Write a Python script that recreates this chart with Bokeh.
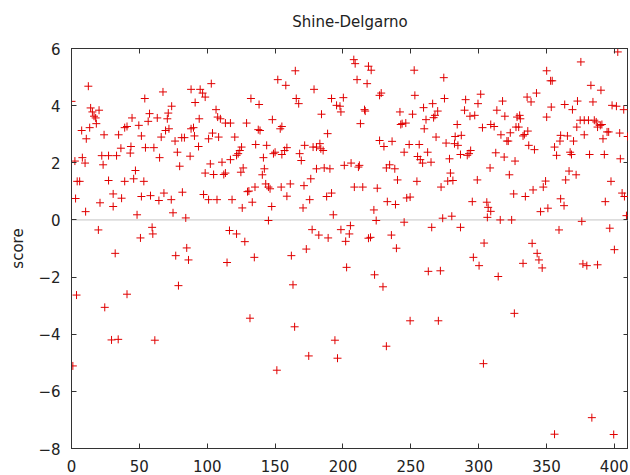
from bokeh.plotting import figure
from bokeh.models import Range1d, FixedTicker, LinearAxis, Span
from bokeh.embed import file_html
from bokeh.resources import INLINE

position = [
    0, 1, 2.5, 3, 3.7, 4.2, 6, 7.5, 8, 10, 10.4, 10.9, 12.4, 13.4, 14.1, 15.4, 16.6, 17.8, 18.3, 20.3,
    19.8, 21, 22.3, 23.3, 24, 24.5, 27.3, 27.3, 29.5, 30.7, 30.7, 32.2, 33.2, 34.4, 34.7, 36.4, 36.9,
    39.2, 40.9, 44.6, 49.6, 54, 56.5, 57.5, 63.2, 67.4, 70.6, 71.3, 71.8, 69.3, 73.8, 51.5, 66.1, 76.3,
    78, 43.8, 43.3, 54.5, 60.7, 64.9, 47.1, 45.8, 39.2, 53.3, 51.5, 58.2, 68.1, 64.4, 73.5, 48.3, 74.8,
    59.4, 59.9, 50.8, 76.8, 78.8, 40.9, 61.4,
    79.7, 81.2, 81.7, 83.2, 84.2, 84.9, 86.2, 87.4, 88.1, 88.1, 89.9, 90.6, 91.1, 93.6, 94.1, 94.8,
    96.6, 98.5, 97.3, 98.5, 101, 101, 102.3, 103, 103.9, 104.7, 106.5, 107.2, 107.7, 108.4, 109.7,
    110.9, 112.2, 113.4, 113.4, 114.6, 116.4, 117.1, 117.1, 118.3, 120.3,
    121.6, 121.6, 122.8, 124, 124.8, 125.3, 125.8, 126.5, 127.7, 129, 129.7, 130.7, 131.5, 132.2,
    133.2, 134.7, 135.2, 135.7, 137.6, 138.9, 138.2, 140.6, 141.4, 142.1, 143.1, 143.8, 145.1, 145.1,
    146.3, 147.5, 148, 148.8, 150, 151.3, 152, 153.8, 155, 155, 154.5, 157, 157.9, 158.7, 158.7,
    161.2, 162,
    163.2, 164.4, 164.9, 165.6, 167.4, 168.1, 169.3, 170.6, 171.3, 171.8, 173, 174.8, 175.5, 176.3,
    177.3, 178, 178.7, 180.5, 180.5, 182.2, 183, 183.7, 184.2, 185.4, 186.2, 188, 188.7, 189.1, 190.4,
    191.6, 191.6, 192.9, 194.1, 195.3, 196, 197.8, 198.5, 198.5, 200.3, 201, 202, 202.7,
    204.7, 205.5, 206, 208, 209, 208.4, 210.4, 211.4, 212.1, 212.9, 214.6, 215.9, 216.4, 217.8, 218.8,
    218.8, 220.3, 220.8, 222.8, 223.3, 224.5, 225.3, 227, 227, 228.2, 229.5, 230.2, 232, 232, 232.7,
    234.4, 235.7, 236.2, 238.2, 238.7, 239.4, 240.2, 242, 242.6, 243.6, 245.1, 245.1,
    246.3, 247, 248.8, 249.5, 249.5, 251.3, 252.5, 253, 254.5, 255, 256.2, 257, 258.7, 259.4, 259.9,
    261.2, 262.4, 262.9, 264.9, 265.4, 266.1, 266.8, 267.8, 268.6, 269.8, 270.3, 271.8, 272.3, 273.5,
    274.3, 274.8, 276, 277.2, 278.5, 279.2, 280.2, 281, 282.2, 282.7, 284.2, 284.7, 286.6, 286.6,
    287.2, 289.6, 290.4, 291.6, 292.9, 293.6, 294.1, 295.3, 296.1, 297.1, 299, 299.5, 300.3, 301.5,
    302.8, 303.5, 304, 306, 306.4, 307, 308.4, 308.9, 308.9, 311.4, 312.6, 313.4, 314.4, 315.9, 316.4,
    317.6, 318.8, 319.3, 320.8, 321.8, 322.6, 323.3, 324.3, 325.8, 326.3, 326.8, 327.5, 328.3,
    329.5, 330.2, 330.7, 332.7, 332.7, 333.7, 334.4, 335.7, 336.2, 336.9, 338.6, 339.4, 340.1, 341.1,
    342.6, 343.1, 344.4, 345.6, 346.8, 347.6, 349.3, 350.1, 350.1, 351, 353, 354.2, 353.5, 355.9,
    355.9, 357.4, 359.2, 359.9, 360.4, 360.4, 362.9, 363.4, 364.1, 365.4, 366.6, 367.4, 368.4, 369.1,
    369.9,
    371.8, 372.3, 372.8, 374.8, 375.3, 376, 376.8, 377.8, 377.8, 379.7, 380.9, 381.7, 382.7, 383.4,
    384.2, 385.2, 386.6, 387.6, 387.6, 389.6, 390.1, 390.8, 391.6, 392.6, 393.3, 394.6, 395.8, 396.6,
    397.5, 398.3, 399.5, 400, 401.5, 402.5, 403.9, 404.4, 405.7, 406.9, 407.4, 408.9, 409.8,
]

score = [
    4.15, -5.11, 2.06, 0.75, -2.63, 1.35, 1.35, 3.13, 2.18, 1.99, 0.29, 2.84, 4.68, 3.23, 3.92, 3.78, 3.63, 3.57, 3.37, 3.84,
    -0.35, 0.60, 2.25, 1.93, 2.98, -3.06, 2.25, 1.38, -4.2, 0.91, 0.47, -1.17, 2.25, -4.18, 2.98, 2.51, 0.76,
    3.23, 3.27, 3.57, 3.31, 4.25, 3.45, 3.72, 3.57, 4.48, 3.54, 3.74, 3.19, 3.13, 3.98, 2.94, 2.90, 2.76,
    2.37, 2.57, 2.34, 2.53, 2.53, 2.18, 1.73, 1.44, 1.35, 1.35, 0.82, 0.85, 0.94, 0.68, 0.71, 0.18, 0.25,
    -0.26, -0.49, -0.63, -1.25, -2.30, -2.60, -4.21,
    1.88, 2.88, 0.97, 2.88, 0.07, -0.98, -1.40, 2.23, 4.57, 3.19, 3.23, 2.94, 4.11, 2.57, 3.54, 4.57,
    4.44, 4.30, 0.89, 1.64, 2.84, 0.71, 1.96, 4.77, 3.04, 1.59, 3.86, 0.71, 3.60, 2.90, 3.54,
    2.02, 1.59, 1.64, 3.39, -1.49, -0.37, 3.39, 2.11, 0.71, 2.90,
    2.26, -0.49, 2.32, 2.43, 1.67, 2.55, 0.42, 1.82, -0.76, 3.39, 0.99, 1.01, -3.44, 4.25,
    0.62, -1.31, 1.15, 2.64, 3.16, 3.13, 4.04, 1.58, 2.18, 1.79, 1.26, 2.61, 1.15, -0.02,
    1.09, 0.47, 3.51, 2.32, 2.37, -5.26, 4.91, 3.19, 3.27, 2.29, 1.15, 2.43, 4.71, 2.53, 0.83,
    1.26, -1.25,
    -2.27, -3.74, 5.22, 4.25, 4.07, 2.32, 2.08, 0.42, 1.20, 2.61, -1.02, -4.76, 0.71, 1.44,
    -0.34, 2.55, 4.57, 2.55, 1.79, -0.53, 2.67, 2.49, 3.70, 2.43, 1.82, 0.82, 3.02, -0.63, 1.79,
    4.25, 0.94, 0.18, -4.21, 4.01, -4.84, 3.98, 3.78, -0.34, 4.28, 1.91, -0.75, -1.66,
    -0.49, -0.20, 1.99, 5.61, 5.47, 1.15, 4.91, 1.85, 1.91, 3.37, 1.15, 3.86, 3.81, 4.77, 5.38,
    -0.64, -0.61, 5.24, 0.35, -1.92, -0.02, 1.11, 4.36, 2.78, 4.44, -2.34, 2.57, 1.82, -4.42, 0.64,
    1.93, -0.53, 2.75, 1.79, 0.54, -0.99, 1.40, 3.78, 3.34, 3.37, 2.37, -0.08,
    3.39, 0.77, 2.64, 0.80, -3.53, 3.70, 5.24, 4.36, 1.35, 2.22, 2.64, 2.11, 1.99, 3.93, 3.19,
    3.51, 2.37, -1.80, 2.02, -0.26, 4.07, 3.58, 3.66, 2.90, 3.81, -3.53, -1.78, 1.15, 0.06,
    4.98, 4.25, 2.69, 1.36, 2.14, 1.64, 0.13, 1.38, 2.67, 2.92, 3.34, 2.61, 2.29, -0.26,
    2.96, 3.84, 4.21, 2.26, 2.32, 3.63, 2.43, 0.64, -1.31, 3.66, 1.40, 4.07, -1.60, 4.40,
    3.23, -5.03, -0.81, 0.62, 0.09, 0.44, 1.82, 3.34, 0.30, 3.27, 2.35, 3.84, -1.98, 0.0, 2.98,
    4.16, 2.20, 3.63, 2.76, 2.76, 1.58, 3.05, 0.0, 0.91, -3.27, 2.06, 3.25, 3.60,
    3.25, 3.66, 3.54, 2.94, -1.52, 2.99, 0.82, 4.30, 3.11, 2.61, 4.13, -0.82, 1.05, 2.46,
    4.44, -1.17, -1.40, 0.29, -1.68, 1.15, 1.36, 5.22, 3.60, 0.41, 4.87, 4.87, 3.95, 2.55,
    -7.5, 2.26, -0.35, 2.76, 2.96, 0.74, 0.50, 4.04, 1.40, 2.94, 1.71, 2.37, 2.29, 3.86,
    2.76,
    1.58, 3.25, 4.16, 3.49, 5.53, -0.05, -1.54, 3.49, 2.98, -1.60, 3.49, 2.29, 4.71, -6.92,
    4.13, 3.49, 3.43, 3.25, -1.57, 3.31, 4.54, 3.34, 2.84, 2.29, 0.64, 3.08, 3.08, -0.29,
    1.35, 4.01, -7.51, -1.04, 3.98, 5.88, 3.04, 2.14, 0.94, 3.86, 0.82, 0.15, 2.92,
]

x_ticks = [0, 50, 100, 150, 200, 250, 300, 350, 400]
y_ticks = [-8, -6, -4, -2, 0, 2, 4, 6]

FONT = "DejaVu Sans"
AX = "#333333"
TXT = "#222222"

p = figure(frame_width=557, frame_height=400, output_backend="svg", toolbar_location=None,
           x_range=Range1d(0, 410.4), y_range=Range1d(-8, 6),
           title="Shine-Delgarno",
           min_border_left=71, min_border_right=0, min_border_top=48, min_border_bottom=10)

p.title.align = "center"
p.title.text_font = FONT
p.title.text_font_size = "15px"
p.title.text_font_style = "normal"
p.title.text_color = TXT
p.title.standoff = 18

p.grid.visible = False
p.outline_line_color = AX
p.background_fill_color = "white"

def style_axis(ax, ticks, show_labels):
    ax.ticker = FixedTicker(ticks=ticks)
    ax.major_tick_in = 5
    ax.major_tick_out = 0
    ax.minor_tick_line_color = None
    ax.axis_line_color = AX
    ax.major_tick_line_color = AX
    ax.major_label_text_font = FONT
    ax.major_label_text_color = TXT
    ax.major_label_text_font_size = "15px"
    if not show_labels:
        ax.major_label_overrides = {t: "" for t in ticks}
        ax.major_label_standoff = 0

style_axis(p.xaxis[0], x_ticks, True)
style_axis(p.yaxis[0], y_ticks, True)
p.xaxis[0].major_label_standoff = 11
p.yaxis[0].major_label_standoff = 11
p.yaxis[0].axis_label = "score"
p.yaxis[0].axis_label_text_font = FONT
p.yaxis[0].axis_label_text_font_size = "15px"
p.yaxis[0].axis_label_text_font_style = "normal"
p.yaxis[0].axis_label_text_color = TXT
p.yaxis[0].axis_label_standoff = 8

top_axis = LinearAxis()
style_axis(top_axis, x_ticks, False)
p.add_layout(top_axis, "above")

# invisible spacer between the mirror axis and the title
spacer = LinearAxis()
style_axis(spacer, x_ticks, False)
spacer.major_tick_in = 0
spacer.major_tick_out = 9
spacer.axis_line_color = None
spacer.major_tick_line_color = None
p.add_layout(spacer, "above")

right_axis = LinearAxis()
style_axis(right_axis, y_ticks, False)
p.add_layout(right_axis, "right")

p.add_layout(Span(location=0, dimension="width", line_color="#c4c4c4", line_width=1, level="underlay"))

p.scatter(position, score, marker="cross", size=8, line_color="#e00000", line_width=1)

open("out.html", "w").write(file_html(p, INLINE))
